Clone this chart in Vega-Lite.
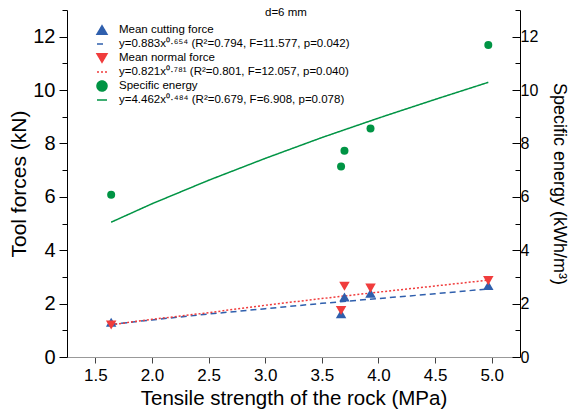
{
  "$schema": "https://vega.github.io/schema/vega-lite/v6.json",
  "width": 453,
  "height": 347,
  "autosize": "none",
  "padding": {"left": 67, "top": 10, "right": 57, "bottom": 57},
  "background": "white",
  "config": {
    "font": "Liberation Sans",
    "view": {"stroke": null},
    "axis": {"grid": false, "labelColor": "black", "titleColor": "black", "titleFontWeight": "normal", "labelFont": "Liberation Sans", "titleFont": "Liberation Sans", "labelOverlap": false},
    "legend": {"title": null, "orient": "none", "legendX": 29, "legendY": 14, "padding": 0, "labelFontSize": 11.5, "labelFont": "Liberation Sans", "labelColor": "black", "symbolSize": 100, "labelOffset": 11, "rowPadding": 0, "labelLimit": 400, "symbolStrokeWidth": 1.5, "symbolOpacity": 1}
  },
  "title": {"text": "d=6 mm", "anchor": "start", "frame": "group", "dx": 198, "offset": -18, "fontSize": 11.5, "fontWeight": "normal", "font": "Liberation Sans", "color": "black"},
  "datasets": {
    "forces": [
      {"x": 1.64, "y": 1.3, "series": "Mean cutting force"},
      {"x": 3.67, "y": 1.62, "series": "Mean cutting force"},
      {"x": 3.70, "y": 2.25, "series": "Mean cutting force"},
      {"x": 3.93, "y": 2.39, "series": "Mean cutting force"},
      {"x": 4.97, "y": 2.68, "series": "Mean cutting force"},
      {"x": 1.64, "y": 1.2, "series": "Mean normal force"},
      {"x": 3.67, "y": 1.74, "series": "Mean normal force"},
      {"x": 3.70, "y": 2.65, "series": "Mean normal force"},
      {"x": 3.93, "y": 2.58, "series": "Mean normal force"},
      {"x": 4.97, "y": 2.86, "series": "Mean normal force"}
    ],
    "forcefits": [
      {"x": 1.64, "y": 1.22, "series": "y=0.883x⁰·⁶⁵⁴ (R²=0.794, F=11.577, p=0.042)"},
      {"x": 2.0, "y": 1.39, "series": "y=0.883x⁰·⁶⁵⁴ (R²=0.794, F=11.577, p=0.042)"},
      {"x": 2.5, "y": 1.61, "series": "y=0.883x⁰·⁶⁵⁴ (R²=0.794, F=11.577, p=0.042)"},
      {"x": 3.0, "y": 1.81, "series": "y=0.883x⁰·⁶⁵⁴ (R²=0.794, F=11.577, p=0.042)"},
      {"x": 3.5, "y": 2.01, "series": "y=0.883x⁰·⁶⁵⁴ (R²=0.794, F=11.577, p=0.042)"},
      {"x": 4.0, "y": 2.19, "series": "y=0.883x⁰·⁶⁵⁴ (R²=0.794, F=11.577, p=0.042)"},
      {"x": 4.5, "y": 2.37, "series": "y=0.883x⁰·⁶⁵⁴ (R²=0.794, F=11.577, p=0.042)"},
      {"x": 4.97, "y": 2.55, "series": "y=0.883x⁰·⁶⁵⁴ (R²=0.794, F=11.577, p=0.042)"},
      {"x": 1.64, "y": 1.21, "series": "y=0.821x⁰·⁷⁸¹ (R²=0.801, F=12.057, p=0.040)"},
      {"x": 2.0, "y": 1.41, "series": "y=0.821x⁰·⁷⁸¹ (R²=0.801, F=12.057, p=0.040)"},
      {"x": 2.5, "y": 1.66, "series": "y=0.821x⁰·⁷⁸¹ (R²=0.801, F=12.057, p=0.040)"},
      {"x": 3.0, "y": 1.94, "series": "y=0.821x⁰·⁷⁸¹ (R²=0.801, F=12.057, p=0.040)"},
      {"x": 3.5, "y": 2.19, "series": "y=0.821x⁰·⁷⁸¹ (R²=0.801, F=12.057, p=0.040)"},
      {"x": 4.0, "y": 2.43, "series": "y=0.821x⁰·⁷⁸¹ (R²=0.801, F=12.057, p=0.040)"},
      {"x": 4.5, "y": 2.66, "series": "y=0.821x⁰·⁷⁸¹ (R²=0.801, F=12.057, p=0.040)"},
      {"x": 4.97, "y": 2.88, "series": "y=0.821x⁰·⁷⁸¹ (R²=0.801, F=12.057, p=0.040)"}
    ],
    "energy": [
      {"x": 1.64, "y": 6.08, "series": "Specific energy"},
      {"x": 3.67, "y": 7.14, "series": "Specific energy"},
      {"x": 3.70, "y": 7.73, "series": "Specific energy"},
      {"x": 3.93, "y": 8.56, "series": "Specific energy"},
      {"x": 4.97, "y": 11.69, "series": "Specific energy"}
    ],
    "energyfit": [
      {"x": 1.64, "y": 5.05, "series": "y=4.462x⁰·⁴⁸⁴ (R²=0.679, F=6.908, p=0.078)"},
      {"x": 2.0, "y": 5.74, "series": "y=4.462x⁰·⁴⁸⁴ (R²=0.679, F=6.908, p=0.078)"},
      {"x": 2.5, "y": 6.62, "series": "y=4.462x⁰·⁴⁸⁴ (R²=0.679, F=6.908, p=0.078)"},
      {"x": 3.0, "y": 7.44, "series": "y=4.462x⁰·⁴⁸⁴ (R²=0.679, F=6.908, p=0.078)"},
      {"x": 3.5, "y": 8.22, "series": "y=4.462x⁰·⁴⁸⁴ (R²=0.679, F=6.908, p=0.078)"},
      {"x": 4.0, "y": 8.95, "series": "y=4.462x⁰·⁴⁸⁴ (R²=0.679, F=6.908, p=0.078)"},
      {"x": 4.5, "y": 9.65, "series": "y=4.462x⁰·⁴⁸⁴ (R²=0.679, F=6.908, p=0.078)"},
      {"x": 4.97, "y": 10.29, "series": "y=4.462x⁰·⁴⁸⁴ (R²=0.679, F=6.908, p=0.078)"}
    ]
  },
  "layer": [
    {
      "data": {"name": "forcefits"},
      "mark": {"type": "line", "strokeWidth": 1.5},
      "encoding": {
        "x": {
          "field": "x", "type": "quantitative",
          "scale": {"domain": [1.25, 5.25], "nice": false, "zero": false},
          "axis": {
            "title": "Tensile strength of the rock (MPa)",
            "values": [1.5, 2.0, 2.5, 3.0, 3.5, 4.0, 4.5, 5.0],
            "format": ".1f",
            "labelOverlap": false,
            "labelFontSize": 17, "titleFontSize": 20.5, "labelPadding": 4, "titlePadding": 5,
            "domainColor": "#999999", "tickColor": "#444444",
            "tickSize": 6,
            "labelFlush": false
          }
        },
        "y": {
          "field": "y", "type": "quantitative",
          "scale": {"domain": [0, 13], "nice": false},
          "axis": {
            "title": "Tool forces (kN)", "orient": "left",
            "values": [0, 1, 2, 3, 4, 5, 6, 7, 8, 9, 10, 11, 12, 13],
            "labelExpr": "datum.value%2==0 && datum.value<13 ? datum.value : ''",
            "labelOverlap": false,
            "labelFontSize": 20, "titleFontSize": 21, "labelPadding": 4, "titlePadding": 3,
            "domainColor": "black", "tickColor": "black",
            "tickSize": {"condition": {"test": "datum.value%2==0", "value": 8}, "value": 5}
          }
        },
        "color": {
          "field": "series", "type": "nominal",
          "scale": {
            "domain": ["Mean cutting force", "y=0.883x⁰·⁶⁵⁴ (R²=0.794, F=11.577, p=0.042)", "Mean normal force", "y=0.821x⁰·⁷⁸¹ (R²=0.801, F=12.057, p=0.040)", "Specific energy", "y=4.462x⁰·⁴⁸⁴ (R²=0.679, F=6.908, p=0.078)"],
            "range": ["#2f5fad", "#2f5fad", "#f03c3c", "#f03c3c", "#009444", "#009444"]
          }
        },
        "strokeDash": {
          "field": "series", "type": "nominal",
          "scale": {
            "domain": ["Mean cutting force", "y=0.883x⁰·⁶⁵⁴ (R²=0.794, F=11.577, p=0.042)", "Mean normal force", "y=0.821x⁰·⁷⁸¹ (R²=0.801, F=12.057, p=0.040)", "Specific energy", "y=4.462x⁰·⁴⁸⁴ (R²=0.679, F=6.908, p=0.078)"],
            "range": [[1, 0], [6, 4], [1, 0], [2, 2], [1, 0], [1, 0]]
          }
        }
      }
    },
    {
      "data": {"name": "forces"},
      "mark": {"type": "point", "filled": true, "opacity": 1, "size": 110},
      "encoding": {
        "x": {"field": "x", "type": "quantitative"},
        "y": {"field": "y", "type": "quantitative", "scale": {"domain": [0, 13], "nice": false}, "axis": null},
        "color": {"field": "series", "type": "nominal"},
        "shape": {
          "field": "series", "type": "nominal",
          "scale": {
            "domain": ["Mean cutting force", "y=0.883x⁰·⁶⁵⁴ (R²=0.794, F=11.577, p=0.042)", "Mean normal force", "y=0.821x⁰·⁷⁸¹ (R²=0.801, F=12.057, p=0.040)", "Specific energy", "y=4.462x⁰·⁴⁸⁴ (R²=0.679, F=6.908, p=0.078)"],
            "range": ["triangle-up", "stroke", "triangle-down", "stroke", "circle", "stroke"]
          }
        }
      }
    },
    {
      "data": {"name": "energyfit"},
      "mark": {"type": "line", "strokeWidth": 1.5},
      "encoding": {
        "x": {"field": "x", "type": "quantitative"},
        "y": {
          "field": "y", "type": "quantitative",
          "scale": {"domain": [0, 13], "nice": false},
          "axis": {
            "title": "Specific energy (kWh/m³)", "orient": "right",
            "values": [0, 1, 2, 3, 4, 5, 6, 7, 8, 9, 10, 11, 12, 13],
            "labelExpr": "datum.value%2==0 && datum.value<13 ? datum.value : ''",
            "labelOverlap": false,
            "labelFontSize": 16, "titleFontSize": 18, "labelPadding": 8, "titlePadding": 12,
            "domainColor": "black", "tickColor": "black",
            "tickSize": {"condition": {"test": "datum.value%2==0", "value": -8}, "value": -5}
          }
        },
        "color": {"field": "series", "type": "nominal"},
        "strokeDash": {"field": "series", "type": "nominal"}
      }
    },
    {
      "data": {"name": "energy"},
      "mark": {"type": "point", "filled": true, "opacity": 1, "size": 64},
      "encoding": {
        "x": {"field": "x", "type": "quantitative"},
        "y": {"field": "y", "type": "quantitative", "scale": {"domain": [0, 13], "nice": false}, "axis": null},
        "color": {"field": "series", "type": "nominal"},
        "shape": {"field": "series", "type": "nominal"}
      }
    }
  ],
  "resolve": {"scale": {"y": "independent"}}
}
